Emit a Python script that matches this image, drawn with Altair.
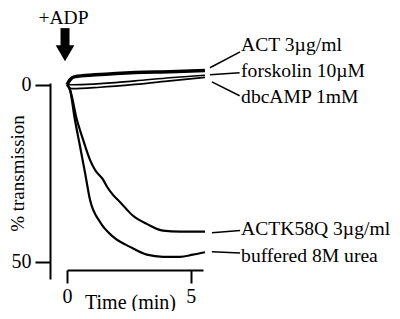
import altair as alt
import pandas as pd

# ---- data (time in min, % transmission) ----
act_x = [0, 0.12, 0.32, 1.13, 2.75, 4.16, 5.58]
act_y = [0, -1.4, -2.3, -2.8, -3.5, -3.7, -4.0]

fsk_x = [0, 0.2, 2.75, 4.16, 5.58]
fsk_y = [0, 0.0, -1.1, -2.0, -2.7]

dbc_x = [0, 0.2, 1.33, 2.75, 4.16, 5.58]
dbc_y = [0, 1.1, 0.7, -0.1, -1.1, -2.1]

k58_x = [0, 0.12, 0.4, 0.65, 0.93, 1.13, 1.46, 1.62, 1.86, 2.14, 2.67, 3.23, 3.88, 4.57, 5.58]
k58_y = [0, 1.4, 9.9, 15.5, 21.2, 24.0, 26.8, 28.8, 31.1, 33.1, 37.0, 39.3, 41.2, 41.5, 41.5]

urea_x = [0, 0.12, 0.32, 0.53, 0.73, 0.93, 1.33, 1.86, 2.55, 3.23, 3.88, 4.57, 5.09, 5.58]
urea_y = [0, 1.4, 9.9, 17.5, 24.9, 32.5, 38.7, 42.9, 45.8, 48.0, 48.6, 48.6, 48.0, 47.3]

series_names = ["ACT 3µg/ml", "forskolin 10µM", "dbcAMP 1mM",
                "ACTK58Q 3µg/ml", "buffered 8M urea"]
series_w = [3.5, 1.6, 1.6, 2.2, 2.2]

# labels: text position and leader line (start -> end)
lab_x = [7.04, 7.04, 7.04, 7.04, 7.04]
lab_y = [-9.6, -2.3, 5.1, 42.4, 50.0]
lead_x1 = [5.78, 5.78, 5.86, 5.86, 5.86]
lead_y1 = [-4.8, -2.8, -0.8, 41.8, 47.2]
lead_x2 = [7.0, 6.98, 6.98, 7.0, 7.0]
lead_y2 = [-9.3, -3.4, 3.1, 41.2, 47.5]

adp_text = "+ADP"
adp_x = -0.14
adp_y = -17.3
arrow_x = -0.08
arrow_top = -16.0
arrow_bot = -9.9
arrow_head = -8.9

FONT = "Liberation Serif"

rows = []
for name, w, xs, ys in zip(series_names, series_w,
                           [act_x, fsk_x, dbc_x, k58_x, urea_x],
                           [act_y, fsk_y, dbc_y, k58_y, urea_y]):
    for i, (a, b) in enumerate(zip(xs, ys)):
        rows.append({"series": name, "w": w, "t": a, "v": b, "o": i})
df = pd.DataFrame(rows)

lab_df = pd.DataFrame({"label": series_names, "x": lab_x, "y": lab_y,
                       "x1": lead_x1, "y1": lead_y1, "x2": lead_x2, "y2": lead_y2})
adp_df = pd.DataFrame({"label": [adp_text], "x": [adp_x], "y": [adp_y],
                       "ax": [arrow_x], "atop": [arrow_top], "abot": [arrow_bot],
                       "ah": [arrow_head]})

xscale = alt.Scale(domain=[0, 5.5], nice=False, zero=False)
yscale = alt.Scale(domain=[-0.5, 54.87], nice=False, zero=False, reverse=True)

xaxis = alt.Axis(values=[0, 5], offset=-9, tickSize=13, labelFontSize=20,
                 labelPadding=3, title="Time (min)", titleFontSize=20,
                 titleFontWeight="normal", titleX=63, titleY=38,
                 titleBaseline="alphabetic", labelFlush=False,
                 labelFont=FONT, titleFont=FONT)
yaxis = alt.Axis(values=[0, 50], offset=17, tickSize=15, labelFontSize=20,
                 labelPadding=4, title="% transmission", titleFontSize=19,
                 titleFontWeight="normal", titleX=-33, titleY=90,
                 titleBaseline="middle", labelFlush=False,
                 labelFont=FONT, titleFont=FONT)

lines = alt.Chart(df).mark_line(color="black", interpolate="monotone").encode(
    x=alt.X("t:Q", scale=xscale, axis=xaxis),
    y=alt.Y("v:Q", scale=yscale, axis=yaxis),
    detail="series:N",
    order="o:Q",
    strokeWidth=alt.StrokeWidth("w:Q", scale=None),
)

leaders = alt.Chart(lab_df).mark_rule(color="black", strokeWidth=1.5).encode(
    x=alt.X("x1:Q", scale=xscale), x2="x2:Q",
    y=alt.Y("y1:Q", scale=yscale), y2="y2:Q",
)

labels = alt.Chart(lab_df).mark_text(align="left", baseline="alphabetic",
                                     font=FONT, fontSize=19.6, color="black").encode(
    x=alt.X("x:Q", scale=xscale), y=alt.Y("y:Q", scale=yscale), text="label:N",
)

adp = alt.Chart(adp_df).mark_text(align="center", baseline="alphabetic",
                                  font=FONT, fontSize=19.5, color="black").encode(
    x=alt.X("x:Q", scale=xscale), y=alt.Y("y:Q", scale=yscale), text="label:N",
)

shaft = alt.Chart(adp_df).mark_rule(color="black", strokeWidth=9).encode(
    x=alt.X("ax:Q", scale=xscale), y=alt.Y("atop:Q", scale=yscale), y2="abot:Q",
)

head = alt.Chart(adp_df).mark_point(shape="triangle-down", filled=True,
                                    color="black", size=350, opacity=1).encode(
    x=alt.X("ax:Q", scale=xscale), y=alt.Y("ah:Q", scale=yscale),
)

chart = alt.layer(lines, leaders, labels, adp, shaft, head).properties(
    width=136, height=196,
    autosize=alt.AutoSizeParams(type="none"),
    padding={"left": 59, "top": 75, "right": 189, "bottom": 32},
    background="white",
).configure_view(stroke=None).configure_axis(
    grid=False, domainColor="black", domainWidth=2, tickColor="black",
    tickWidth=2, labelColor="black", titleColor="black",
)

chart.save("out.html", embed_options={"renderer": "svg", "actions": False})
